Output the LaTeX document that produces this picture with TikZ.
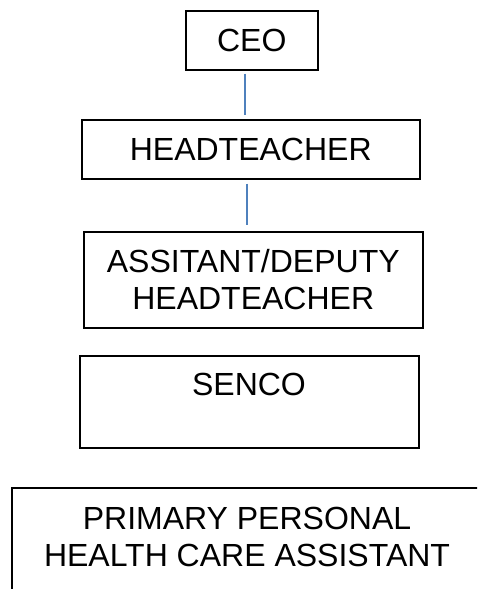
\documentclass[tikz,border=0pt]{standalone}
\usepackage{fontspec}
\setmainfont{Liberation Sans}
\definecolor{connblue}{RGB}{79,129,189}
\begin{document}
\begin{tikzpicture}[x=1pt,y=-1pt,
  box/.style={draw=black, line width=1.5pt, rectangle, inner sep=0pt, anchor=north west,
    font=\fontsize{32}{37}\selectfont, align=center},
  txt/.style={inner sep=0pt, font=\fontsize{32}{37}\selectfont, align=center},
  conn/.style={draw=connblue, line width=1.3pt}]
\useasboundingbox (0,0) rectangle (477,589);
\clip (0,0) rectangle (477,589);
\node[box, minimum width=132pt, minimum height=59pt] (ceo) at (185,10) {CEO};
\node[box, minimum width=338pt, minimum height=59pt] (head) at (81,119) {HEADTEACHER};
\node[box, minimum width=339pt, minimum height=96pt] (deputy) at (83,231) {ASSITANT/DEPUTY\\HEADTEACHER};
\node[box, minimum width=339pt, minimum height=92pt] (senco) at (79,355) {};
\node[txt, anchor=base] (sencotext) at (249,395) {SENCO};
\node[box, minimum width=520pt, minimum height=140pt] (hca) at (11,487) {};
\node[txt, anchor=base] (hcatext) at (247,566) {PRIMARY PERSONAL\\HEALTH CARE ASSISTANT};
\coordinate (l1) at (245,0);
\coordinate (l2) at (247,0);
\draw[conn, shorten <=3pt, shorten >=4pt] (ceo.south -| l1) -- (head.north -| l1);
\draw[conn, shorten <=4pt, shorten >=6pt] (head.south -| l2) -- (deputy.north -| l2);
\end{tikzpicture}
\end{document}
